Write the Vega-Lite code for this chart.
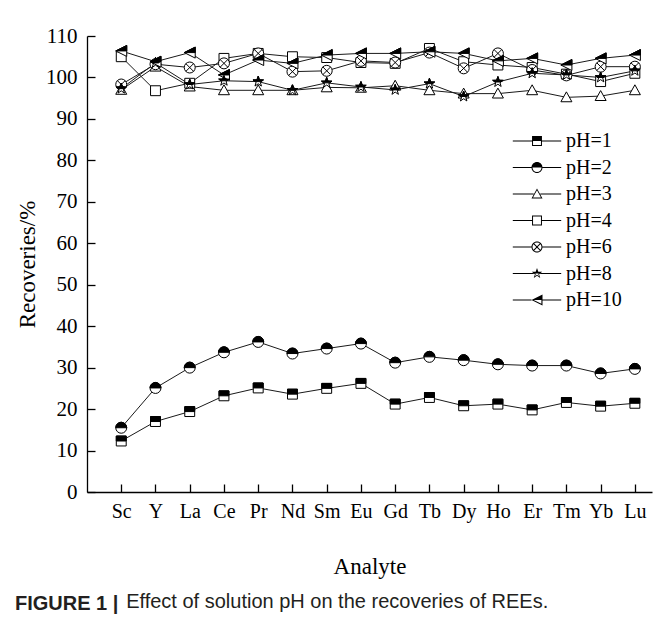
{
  "$schema": "https://vega.github.io/schema/vega-lite/v6.json",
  "width": 565,
  "height": 456,
  "autosize": "none",
  "padding": {"left": 87, "top": 36, "right": 2, "bottom": 135},
  "background": "white",
  "config": {
    "view": {"stroke": null},
    "axis": {"grid": false, "domainColor": "black", "tickColor": "black", "domainWidth": 1.3, "tickWidth": 1.3, "labelColor": "black", "titleColor": "black", "labelFont": "Liberation Serif", "titleFont": "Liberation Serif", "titleFontWeight": "normal"}
  },
  "title": {
    "text": "FIGURE 1 |",
    "subtitle": "\u200b\u00a0\u00a0\u00a0\u00a0\u00a0\u00a0\u00a0\u00a0\u00a0\u00a0\u00a0\u00a0\u00a0\u00a0\u00a0\u00a0\u00a0\u00a0\u00a0\u00a0Effect of solution pH on the recoveries of REEs.",
    "orient": "bottom",
    "anchor": "start",
    "frame": "group",
    "dx": -72,
    "offset": 16,
    "font": "Liberation Sans",
    "fontSize": 20,
    "fontWeight": "bold",
    "color": "#231f20",
    "subtitleFont": "Liberation Sans",
    "subtitleFontSize": 20,
    "subtitleFontWeight": "normal",
    "subtitleColor": "#231f20",
    "subtitlePadding": -22
  },
  "data": {
    "values": [
      {"analyte": "Sc", "idx": 1, "pH": "pH=1", "value": 12.3},
      {"analyte": "Y", "idx": 2, "pH": "pH=1", "value": 17.0},
      {"analyte": "La", "idx": 3, "pH": "pH=1", "value": 19.4},
      {"analyte": "Ce", "idx": 4, "pH": "pH=1", "value": 23.2},
      {"analyte": "Pr", "idx": 5, "pH": "pH=1", "value": 25.1},
      {"analyte": "Nd", "idx": 6, "pH": "pH=1", "value": 23.6},
      {"analyte": "Sm", "idx": 7, "pH": "pH=1", "value": 25.0},
      {"analyte": "Eu", "idx": 8, "pH": "pH=1", "value": 26.2},
      {"analyte": "Gd", "idx": 9, "pH": "pH=1", "value": 21.2},
      {"analyte": "Tb", "idx": 10, "pH": "pH=1", "value": 22.8},
      {"analyte": "Dy", "idx": 11, "pH": "pH=1", "value": 20.8},
      {"analyte": "Ho", "idx": 12, "pH": "pH=1", "value": 21.2},
      {"analyte": "Er", "idx": 13, "pH": "pH=1", "value": 19.8},
      {"analyte": "Tm", "idx": 14, "pH": "pH=1", "value": 21.6},
      {"analyte": "Yb", "idx": 15, "pH": "pH=1", "value": 20.7},
      {"analyte": "Lu", "idx": 16, "pH": "pH=1", "value": 21.4},
      {"analyte": "Sc", "idx": 1, "pH": "pH=2", "value": 15.5},
      {"analyte": "Y", "idx": 2, "pH": "pH=2", "value": 25.1},
      {"analyte": "La", "idx": 3, "pH": "pH=2", "value": 30.0},
      {"analyte": "Ce", "idx": 4, "pH": "pH=2", "value": 33.7},
      {"analyte": "Pr", "idx": 5, "pH": "pH=2", "value": 36.2},
      {"analyte": "Nd", "idx": 6, "pH": "pH=2", "value": 33.4},
      {"analyte": "Sm", "idx": 7, "pH": "pH=2", "value": 34.6},
      {"analyte": "Eu", "idx": 8, "pH": "pH=2", "value": 35.8},
      {"analyte": "Gd", "idx": 9, "pH": "pH=2", "value": 31.2},
      {"analyte": "Tb", "idx": 10, "pH": "pH=2", "value": 32.6},
      {"analyte": "Dy", "idx": 11, "pH": "pH=2", "value": 31.8},
      {"analyte": "Ho", "idx": 12, "pH": "pH=2", "value": 30.8},
      {"analyte": "Er", "idx": 13, "pH": "pH=2", "value": 30.5},
      {"analyte": "Tm", "idx": 14, "pH": "pH=2", "value": 30.5},
      {"analyte": "Yb", "idx": 15, "pH": "pH=2", "value": 28.6},
      {"analyte": "Lu", "idx": 16, "pH": "pH=2", "value": 29.7},
      {"analyte": "Sc", "idx": 1, "pH": "pH=3", "value": 97.0},
      {"analyte": "Y", "idx": 2, "pH": "pH=3", "value": 102.6},
      {"analyte": "La", "idx": 3, "pH": "pH=3", "value": 97.8},
      {"analyte": "Ce", "idx": 4, "pH": "pH=3", "value": 96.9},
      {"analyte": "Pr", "idx": 5, "pH": "pH=3", "value": 96.9},
      {"analyte": "Nd", "idx": 6, "pH": "pH=3", "value": 96.9},
      {"analyte": "Sm", "idx": 7, "pH": "pH=3", "value": 97.6},
      {"analyte": "Eu", "idx": 8, "pH": "pH=3", "value": 97.5},
      {"analyte": "Gd", "idx": 9, "pH": "pH=3", "value": 98.0},
      {"analyte": "Tb", "idx": 10, "pH": "pH=3", "value": 96.9},
      {"analyte": "Dy", "idx": 11, "pH": "pH=3", "value": 96.1},
      {"analyte": "Ho", "idx": 12, "pH": "pH=3", "value": 96.1},
      {"analyte": "Er", "idx": 13, "pH": "pH=3", "value": 96.9},
      {"analyte": "Tm", "idx": 14, "pH": "pH=3", "value": 95.2},
      {"analyte": "Yb", "idx": 15, "pH": "pH=3", "value": 95.5},
      {"analyte": "Lu", "idx": 16, "pH": "pH=3", "value": 96.9},
      {"analyte": "Sc", "idx": 1, "pH": "pH=4", "value": 105.0},
      {"analyte": "Y", "idx": 2, "pH": "pH=4", "value": 96.8},
      {"analyte": "La", "idx": 3, "pH": "pH=4", "value": 98.6},
      {"analyte": "Ce", "idx": 4, "pH": "pH=4", "value": 104.6},
      {"analyte": "Pr", "idx": 5, "pH": "pH=4", "value": 105.8},
      {"analyte": "Nd", "idx": 6, "pH": "pH=4", "value": 105.0},
      {"analyte": "Sm", "idx": 7, "pH": "pH=4", "value": 104.8},
      {"analyte": "Eu", "idx": 8, "pH": "pH=4", "value": 103.6},
      {"analyte": "Gd", "idx": 9, "pH": "pH=4", "value": 103.4},
      {"analyte": "Tb", "idx": 10, "pH": "pH=4", "value": 107.0},
      {"analyte": "Dy", "idx": 11, "pH": "pH=4", "value": 103.8},
      {"analyte": "Ho", "idx": 12, "pH": "pH=4", "value": 103.0},
      {"analyte": "Er", "idx": 13, "pH": "pH=4", "value": 102.4},
      {"analyte": "Tm", "idx": 14, "pH": "pH=4", "value": 100.8},
      {"analyte": "Yb", "idx": 15, "pH": "pH=4", "value": 99.0},
      {"analyte": "Lu", "idx": 16, "pH": "pH=4", "value": 101.0},
      {"analyte": "Sc", "idx": 1, "pH": "pH=6", "value": 98.3},
      {"analyte": "Y", "idx": 2, "pH": "pH=6", "value": 103.2},
      {"analyte": "La", "idx": 3, "pH": "pH=6", "value": 102.4},
      {"analyte": "Ce", "idx": 4, "pH": "pH=6", "value": 103.4},
      {"analyte": "Pr", "idx": 5, "pH": "pH=6", "value": 105.8},
      {"analyte": "Nd", "idx": 6, "pH": "pH=6", "value": 101.4},
      {"analyte": "Sm", "idx": 7, "pH": "pH=6", "value": 101.6},
      {"analyte": "Eu", "idx": 8, "pH": "pH=6", "value": 104.0},
      {"analyte": "Gd", "idx": 9, "pH": "pH=6", "value": 103.6},
      {"analyte": "Tb", "idx": 10, "pH": "pH=6", "value": 106.0},
      {"analyte": "Dy", "idx": 11, "pH": "pH=6", "value": 102.2},
      {"analyte": "Ho", "idx": 12, "pH": "pH=6", "value": 105.8},
      {"analyte": "Er", "idx": 13, "pH": "pH=6", "value": 101.8},
      {"analyte": "Tm", "idx": 14, "pH": "pH=6", "value": 100.5},
      {"analyte": "Yb", "idx": 15, "pH": "pH=6", "value": 102.6},
      {"analyte": "Lu", "idx": 16, "pH": "pH=6", "value": 102.6},
      {"analyte": "Sc", "idx": 1, "pH": "pH=8", "value": 97.3},
      {"analyte": "Y", "idx": 2, "pH": "pH=8", "value": 103.5},
      {"analyte": "La", "idx": 3, "pH": "pH=8", "value": 98.3},
      {"analyte": "Ce", "idx": 4, "pH": "pH=8", "value": 99.2},
      {"analyte": "Pr", "idx": 5, "pH": "pH=8", "value": 99.0},
      {"analyte": "Nd", "idx": 6, "pH": "pH=8", "value": 96.9},
      {"analyte": "Sm", "idx": 7, "pH": "pH=8", "value": 98.7},
      {"analyte": "Eu", "idx": 8, "pH": "pH=8", "value": 97.7},
      {"analyte": "Gd", "idx": 9, "pH": "pH=8", "value": 97.0},
      {"analyte": "Tb", "idx": 10, "pH": "pH=8", "value": 98.5},
      {"analyte": "Dy", "idx": 11, "pH": "pH=8", "value": 95.4},
      {"analyte": "Ho", "idx": 12, "pH": "pH=8", "value": 98.9},
      {"analyte": "Er", "idx": 13, "pH": "pH=8", "value": 101.0},
      {"analyte": "Tm", "idx": 14, "pH": "pH=8", "value": 100.6},
      {"analyte": "Yb", "idx": 15, "pH": "pH=8", "value": 100.0},
      {"analyte": "Lu", "idx": 16, "pH": "pH=8", "value": 101.6},
      {"analyte": "Sc", "idx": 1, "pH": "pH=10", "value": 106.4},
      {"analyte": "Y", "idx": 2, "pH": "pH=10", "value": 103.8},
      {"analyte": "La", "idx": 3, "pH": "pH=10", "value": 106.0},
      {"analyte": "Ce", "idx": 4, "pH": "pH=10", "value": 100.6},
      {"analyte": "Pr", "idx": 5, "pH": "pH=10", "value": 104.2},
      {"analyte": "Nd", "idx": 6, "pH": "pH=10", "value": 103.4},
      {"analyte": "Sm", "idx": 7, "pH": "pH=10", "value": 105.4},
      {"analyte": "Eu", "idx": 8, "pH": "pH=10", "value": 105.8},
      {"analyte": "Gd", "idx": 9, "pH": "pH=10", "value": 105.8},
      {"analyte": "Tb", "idx": 10, "pH": "pH=10", "value": 106.2},
      {"analyte": "Dy", "idx": 11, "pH": "pH=10", "value": 105.8},
      {"analyte": "Ho", "idx": 12, "pH": "pH=10", "value": 104.0},
      {"analyte": "Er", "idx": 13, "pH": "pH=10", "value": 104.6},
      {"analyte": "Tm", "idx": 14, "pH": "pH=10", "value": 103.0},
      {"analyte": "Yb", "idx": 15, "pH": "pH=10", "value": 104.6},
      {"analyte": "Lu", "idx": 16, "pH": "pH=10", "value": 105.4}
    ]
  },
  "encoding": {
    "x": {
      "field": "idx",
      "type": "quantitative",
      "scale": {"domain": [0, 16.5], "nice": false, "zero": false},
      "axis": {
        "title": "Analyte",
        "titleFontSize": 23,
        "titlePadding": 34,
        "values": [1, 2, 3, 4, 5, 6, 7, 8, 9, 10, 11, 12, 13, 14, 15, 16],
        "labelExpr": "['','Sc','Y','La','Ce','Pr','Nd','Sm','Eu','Gd','Tb','Dy','Ho','Er','Tm','Yb','Lu'][datum.value]",
        "labelFontSize": 20,
        "labelPadding": 17,
        "tickSize": -8,
        "labelFlush": false,
        "labelOverlap": false
      }
    },
    "y": {
      "field": "value",
      "type": "quantitative",
      "scale": {"domain": [0, 110], "nice": false},
      "axis": {
        "title": "Recoveries/%",
        "titleFontSize": 23,
        "titlePadding": 6,
        "values": [0, 10, 20, 30, 40, 50, 60, 70, 80, 90, 100, 110],
        "labelFontSize": 21,
        "labelPadding": 18,
        "tickSize": -8
      }
    }
  },
  "layer": [
    {
      "mark": {"type": "line", "color": "#1a1a1a", "strokeWidth": 1},
      "encoding": {"detail": {"field": "pH"}}
    },
    {
      "mark": {"type": "point", "filled": true, "fill": "white", "stroke": "black", "strokeWidth": 1, "opacity": 1, "size": 121},
      "encoding": {
        "shape": {
          "field": "pH",
          "type": "nominal",
          "scale": {
            "domain": ["pH=1", "pH=2", "pH=3", "pH=4", "pH=6", "pH=8", "pH=10"],
            "range": [
              "M-0.9,-0.9H0.9V0.9H-0.9Z",
              "M-1,0A1,1 0 1,1 1,0A1,1 0 1,1 -1,0Z",
              "M0,-1L1,0.8H-1Z",
              "M-0.9,-0.9H0.9V0.9H-0.9Z",
              "M-1,0A1,1 0 1,1 1,0A1,1 0 1,1 -1,0ZM-0.7,-0.7L0.7,0.7M0.7,-0.7L-0.7,0.7",
              "M0,-1L0.235,-0.324L0.951,-0.309L0.38,0.124L0.588,0.809L0,0.4L-0.588,0.809L-0.38,0.124L-0.951,-0.309L-0.235,-0.324Z",
              "M-1,0L1,-1V1Z"
            ]
          },
          "legend": null
        }
      }
    },
    {
      "transform": [{"filter": {"field": "pH", "oneOf": ["pH=1", "pH=2", "pH=8", "pH=10"]}}],
      "mark": {"type": "point", "filled": true, "fill": "black", "stroke": "black", "strokeWidth": 1, "opacity": 1, "size": 121},
      "encoding": {
        "shape": {
          "field": "pH",
          "type": "nominal",
          "scale": {
            "domain": ["pH=1", "pH=2", "pH=8", "pH=10"],
            "range": [
              "M-0.9,-0.9H0.9V0H-0.9Z",
              "M-1,0A1,1 0 0,1 1,0Z",
              "M0,-1L0.235,-0.324L0.951,-0.309L0.543,0H-0.543L-0.951,-0.309L-0.235,-0.324Z",
              "M-1,0L1,-1V0Z"
            ]
          },
          "legend": null
        }
      }
    },
    {
      "transform": [{"filter": "datum.value < 0"}],
      "mark": {"type": "point", "filled": true, "color": "black", "fill": "black", "opacity": 1, "size": 121},
      "encoding": {
        "shape": {
          "field": "pH",
          "type": "nominal",
          "scale": {
            "domain": ["pH=1", "pH=2", "pH=3", "pH=4", "pH=6", "pH=8", "pH=10"],
            "range": [
              "M-4.4,-0.1H-0.9V0.1H-4.4ZM0.9,-0.1H4.4V0.1H0.9ZM-0.9,-0.9H0.9V0.9H-0.9ZM-0.72,0V0.72H0.72V0Z",
              "M-4.4,-0.1H-1V0.1H-4.4ZM1,-0.1H4.4V0.1H1ZM-1,0A1,1 0 1,1 1,0A1,1 0 1,1 -1,0ZM-0.82,0A0.82,0.82 0 0,0 0.82,0Z",
              "M-4.4,-0.1H-0.6V0.1H-4.4ZM0.6,-0.1H4.4V0.1H0.6ZM0,-1L1,0.8H-1ZM0,-0.664L-0.72,0.632H0.72Z",
              "M-4.4,-0.1H-0.9V0.1H-4.4ZM0.9,-0.1H4.4V0.1H0.9ZM-0.9,-0.9H0.9V0.9H-0.9ZM-0.72,-0.72V0.72H0.72V-0.72Z",
              "M-4.4,-0.1H-1V0.1H-4.4ZM1,-0.1H4.4V0.1H1ZM-1,0A1,1 0 1,1 1,0A1,1 0 1,1 -1,0ZM-0.82,0A0.82,0.82 0 1,0 0.82,0A0.82,0.82 0 1,0 -0.82,0ZM-0.536,-0.664L0.664,0.536L0.536,0.664L-0.664,-0.536ZM0.536,-0.664L0.664,-0.536L-0.536,0.664L-0.664,0.536Z",
              "M-4.4,-0.1H-0.6V0.1H-4.4ZM0.6,-0.1H4.4V0.1H0.6ZM0,-1L0.235,-0.324L0.951,-0.309L0.38,0.124L0.588,0.809L0,0.4L-0.588,0.809L-0.38,0.124L-0.951,-0.309L-0.235,-0.324ZM-0.326,0L-0.228,0.074L-0.353,0.485L0,0.24L0.353,0.485L0.228,0.074L0.326,0Z",
              "M-4.4,-0.1H-1V0.1H-4.4ZM1,-0.1H4.4V0.1H1ZM-1,0L1,-1V1ZM-0.6,0L0.8,0.7V0Z"
            ]
          },
          "legend": {
            "title": null,
            "orient": "none",
            "legendX": 440,
            "legendY": 95,
            "padding": 0,
            "symbolSize": 121,
            "symbolFillColor": "black",
            "symbolOpacity": 1,
            "labelOffset": 19,
            "labelFont": "Liberation Serif",
            "labelFontSize": 20,
            "labelColor": "black",
            "rowPadding": 6.5,
            "encode": {
              "symbols": {
                "fill": {"value": "black"},
                "opacity": {"value": 1}
              }
            }
          }
        }
      }
    }
  ],
  "resolve": {"scale": {"shape": "independent"}}
}
